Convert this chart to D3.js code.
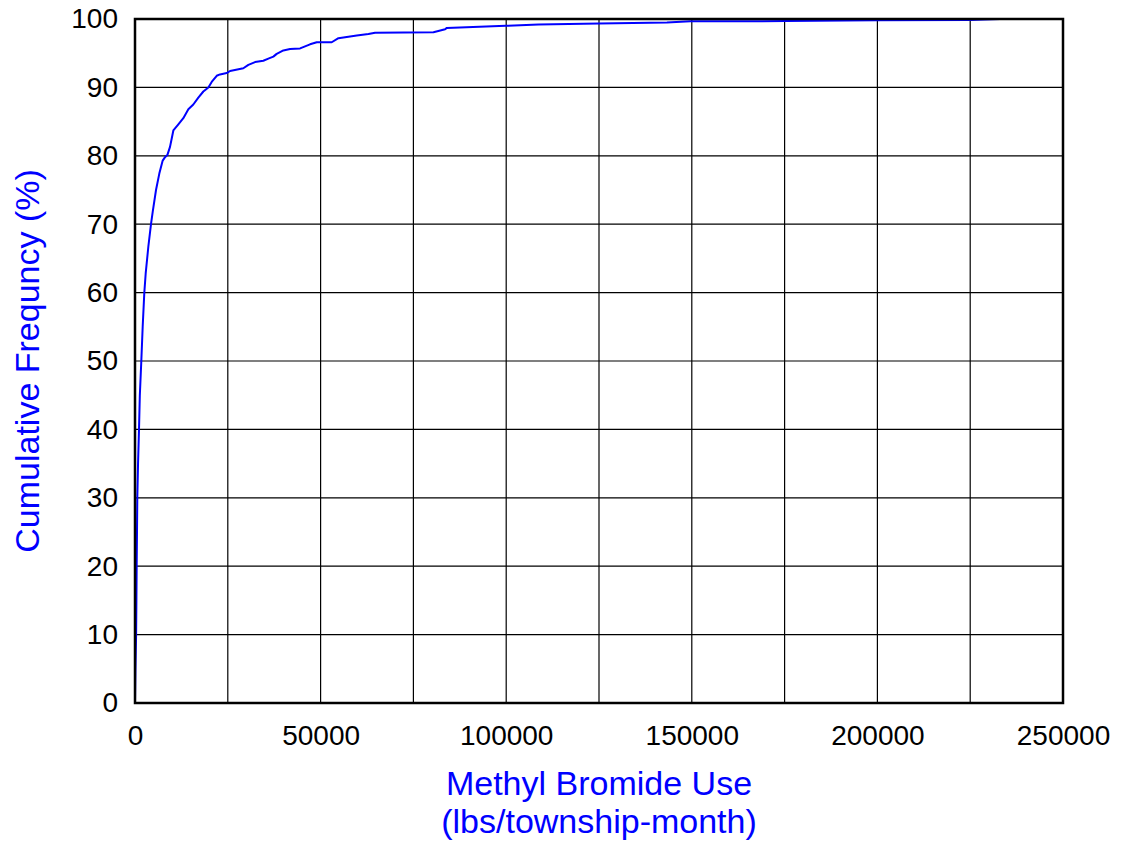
<!DOCTYPE html>
<html lang="en">
<head>
	<meta charset="UTF-8">
	<title>Methyl Bromide Use - cumulative frequency</title>
	<script src="https://d3js.org/d3.v7.min.js" charset="utf-8"></script>
	<style>
		body { margin: 0; background: #fff; }
		text { font-family: "Liberation Sans", Arial, sans-serif; }
	</style>
</head>
<body>
	<svg id="content" width="1124" height="843"></svg>
</body>
<script>
	// lbs/township-month
	var use_lbs = [
		0, 120, 300, 380, 450, 540, 620, 820, 1080, 1300,
		1700, 2070, 2510, 2880, 3590, 4310, 4770, 5660, 6550, 7460,
		8090, 8710, 9430, 9880, 10330, 11680, 13020, 14370, 15710, 17060,
		18410, 19760, 20660, 22010, 22900, 24710, 25600, 29190, 30540, 32340,
		34580, 35920, 37270, 38170, 39970, 41770, 44470, 47160, 48960, 53000,
		54800, 59750, 62880, 64680, 80400, 83550, 84000, 99900, 108700, 125000,
		143300, 149600, 157700, 175200, 200000, 225000, 233100
	];
	// cumulative frequency (%)
	var cum_freq = [
		0, 5, 10, 15, 20, 25, 30, 35, 40, 45,
		50, 55, 60, 62.8, 66.7, 70, 71.8, 75, 77.4, 79.3,
		79.8, 80.1, 81.3, 82.5, 83.7, 84.6, 85.5, 86.8, 87.5, 88.5,
		89.4, 90, 90.8, 91.7, 91.9, 92.1, 92.4, 92.8, 93.3, 93.7,
		93.9, 94.2, 94.5, 94.9, 95.4, 95.6, 95.7, 96.3, 96.6, 96.6,
		97.2, 97.6, 97.8, 98.0, 98.05, 98.5, 98.7, 99.0, 99.2, 99.36,
		99.5, 99.66, 99.66, 99.7, 99.8, 99.85, 100
	];
	var x_ticks = [0, 50000, 100000, 150000, 200000, 250000];
	var x_grid = d3.range(0, 250001, 25000);
	var y_ticks = d3.range(0, 101, 10);

// "top" is taken by window.top, so plot edges get their own names
var p_left = 135, p_right = 1063, p_top = 19, p_bottom = 703;

var svg = d3.select("#content");

var x = d3.scaleLinear().domain([0, 250000]).range([p_left, p_right]);
var y = d3.scaleLinear().domain([0, 100]).range([p_bottom, p_top]);

// grid
svg.append("g")
	.selectAll("line")
	.data(x_grid)
	.enter()
	.append("line")
	.attr("x1", function(d){ return x(d); })
	.attr("x2", function(d){ return x(d); })
	.attr("y1", p_top)
	.attr("y2", p_bottom)
	.attr("stroke", "#000")
	.attr("stroke-width", 1.2);

svg.append("g")
	.selectAll("line")
	.data(y_ticks)
	.enter()
	.append("line")
	.attr("x1", p_left)
	.attr("x2", p_right)
	.attr("y1", function(d){ return y(d); })
	.attr("y2", function(d){ return y(d); })
	.attr("stroke", "#000")
	.attr("stroke-width", 1.2);

// axes (labels only, the frame is drawn below)
var xAxis = svg.append("g")
	.attr("transform", "translate(0," + p_bottom + ")")
	.call(d3.axisBottom(x).tickValues(x_ticks).tickSize(0).tickPadding(22).tickFormat(d3.format("d")));
var yAxis = svg.append("g")
	.attr("transform", "translate(" + p_left + ",0)")
	.call(d3.axisLeft(y).tickValues(y_ticks).tickSize(0).tickPadding(17).tickFormat(d3.format("d")));

[xAxis, yAxis].forEach(function(a){
	a.select(".domain").remove();
	a.selectAll("text")
		.attr("fill", "#000")
		.style("font-family", '"Liberation Sans", Arial, sans-serif')
		.style("font-size", "28px");
});

// curve
var pts = use_lbs.map(function(v, i){ return [v, cum_freq[i]]; });
svg.append("path")
	.datum(pts)
	.attr("fill", "none")
	.attr("stroke", "#0000ff")
	.attr("stroke-width", 2)
	.attr("stroke-linejoin", "round")
	.attr("d", d3.line()
		.x(function(d){ return x(d[0]); })
		.y(function(d){ return y(d[1]); }));

// frame
svg.append("rect")
	.attr("x", p_left)
	.attr("y", p_top)
	.attr("width", p_right - p_left)
	.attr("height", p_bottom - p_top)
	.attr("fill", "none")
	.attr("stroke", "#000")
	.attr("stroke-width", 2.5);

// titles
svg.append("text")
	.attr("x", (p_left + p_right) / 2)
	.attr("y", 795)
	.attr("text-anchor", "middle")
	.attr("fill", "#0000ff")
	.style("font-size", "34px")
	.text("Methyl Bromide Use");
svg.append("text")
	.attr("x", (p_left + p_right) / 2)
	.attr("y", 833)
	.attr("text-anchor", "middle")
	.attr("fill", "#0000ff")
	.style("font-size", "34px")
	.text("(lbs/township-month)");
svg.append("text")
	.attr("transform", "translate(39," + (p_top + p_bottom) / 2 + ") rotate(-90)")
	.attr("text-anchor", "middle")
	.attr("fill", "#0000ff")
	.style("font-size", "34px")
	.text("Cumulative Frequncy (%)");
</script>
</html>
